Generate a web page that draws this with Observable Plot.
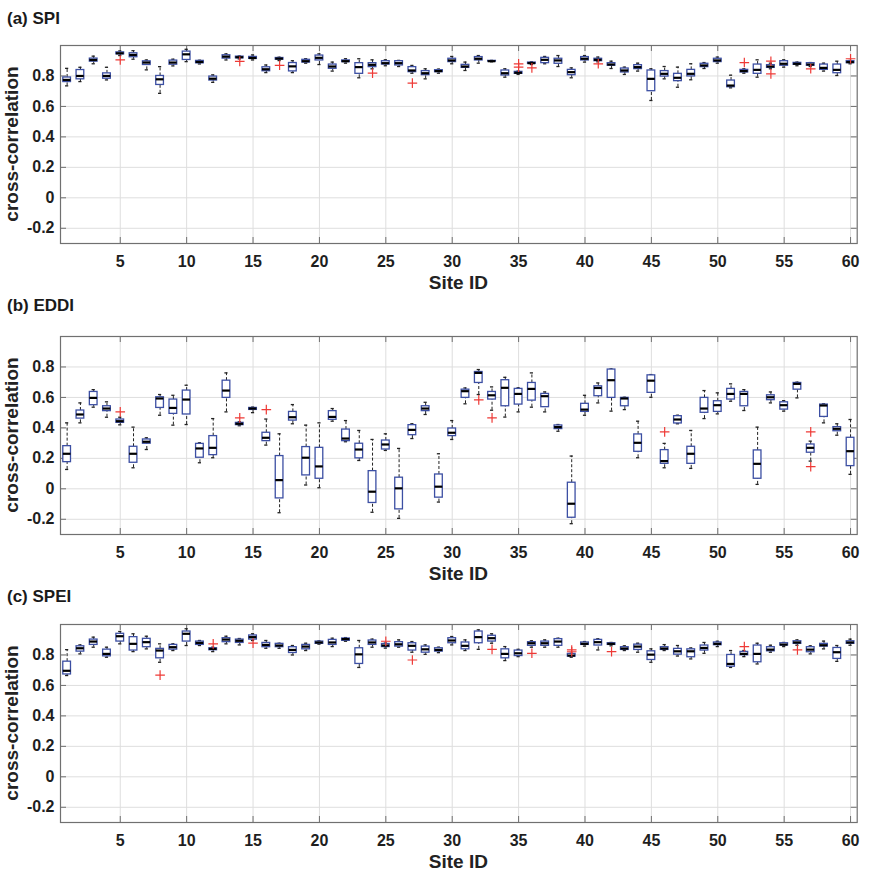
<!DOCTYPE html>
<html>
<head>
<meta charset="utf-8">
<script src="https://cdn.jsdelivr.net/npm/d3@7"></script>
<script src="https://cdn.jsdelivr.net/npm/@observablehq/plot@0.6"></script>
<style>
  body { margin: 0; background: #fff; }
  #wrap { position: relative; width: 879px; height: 874px; background: #fff;
          font-family: "Liberation Sans", Arial, Helvetica, sans-serif; color: #1a1a1a; }
  .title { position: absolute; left: 7px; font-weight: bold; font-size: 17px; line-height: 20px; white-space: nowrap; }
  .ylab { position: absolute; width: 220px; height: 20px; line-height: 20px; text-align: center;
          font-weight: bold; font-size: 19px; transform: rotate(-90deg); white-space: nowrap; color: #222; }
  .xlab { position: absolute; width: 200px; height: 20px; line-height: 20px; text-align: center;
          font-weight: bold; font-size: 19px; white-space: nowrap; color: #222; }
  .panel { position: absolute; left: 0; }
</style>
</head>
<body>
<div id="wrap"></div>
<script>
// ---------------- data ----------------
const sites = [1,2,3,4,5,6,7,8,9,10,11,12,13,14,15,16,17,18,19,20,21,22,23,24,25,26,27,28,29,30,
  31,32,33,34,35,36,37,38,39,40,41,42,43,44,45,46,47,48,49,50,51,52,53,54,55,56,57,58,59,60];
const xTicks = [5,10,15,20,25,30,35,40,45,50,55,60];
const yTicks = [-0.2,0,0.2,0.4,0.6,0.8];
const panelTitles = ["(a) SPI", "(b) EDDI", "(c) SPEI"];
const xLabel = "Site ID";
const yLabel = "cross-correlation";

// (a) SPI
const spiLo  = [0.735,0.763,0.880,0.774,0.934,0.910,0.840,0.686,0.866,0.894,0.879,0.758,0.905,0.912,0.905,0.822,0.901,0.822,0.884,0.875,
  0.832,0.884,0.788,0.847,0.867,0.862,0.818,0.781,0.818,0.880,0.836,0.884,0.893,0.792,0.810,0.875,0.880,0.862,0.788,0.891,
  0.893,0.849,0.810,0.832,0.639,0.781,0.726,0.775,0.849,0.884,0.722,0.818,0.792,0.847,0.858,0.867,0.862,0.832,0.803,0.880];
const spiQ1  = [0.760,0.778,0.894,0.782,0.942,0.923,0.872,0.741,0.874,0.905,0.883,0.770,0.914,0.916,0.912,0.831,0.907,0.830,0.888,0.902,
  0.847,0.891,0.814,0.858,0.875,0.869,0.825,0.805,0.825,0.891,0.853,0.902,0.895,0.803,0.814,0.880,0.884,0.880,0.805,0.902,
  0.897,0.867,0.823,0.845,0.700,0.796,0.766,0.797,0.858,0.891,0.726,0.823,0.814,0.853,0.867,0.873,0.867,0.840,0.818,0.884];
const spiMed = [0.774,0.800,0.905,0.800,0.949,0.938,0.888,0.778,0.888,0.942,0.892,0.782,0.927,0.923,0.918,0.844,0.914,0.863,0.897,0.919,
  0.862,0.897,0.858,0.873,0.884,0.884,0.836,0.818,0.832,0.902,0.862,0.913,0.897,0.818,0.821,0.884,0.906,0.902,0.825,0.913,
  0.906,0.875,0.836,0.858,0.781,0.814,0.788,0.814,0.869,0.902,0.737,0.832,0.840,0.862,0.880,0.880,0.875,0.853,0.840,0.891];
const spiQ3  = [0.790,0.839,0.914,0.817,0.955,0.949,0.896,0.800,0.901,0.960,0.899,0.796,0.936,0.927,0.925,0.857,0.918,0.885,0.906,0.934,
  0.875,0.902,0.884,0.884,0.897,0.897,0.858,0.832,0.838,0.913,0.873,0.924,0.899,0.836,0.827,0.888,0.919,0.913,0.840,0.924,
  0.913,0.884,0.849,0.871,0.836,0.832,0.814,0.840,0.880,0.913,0.770,0.840,0.875,0.871,0.897,0.886,0.884,0.875,0.875,0.897];
const spiHi  = [0.850,0.857,0.930,0.857,0.964,0.966,0.905,0.861,0.910,0.975,0.903,0.807,0.945,0.931,0.938,0.872,0.923,0.900,0.913,0.945,
  0.891,0.913,0.913,0.906,0.906,0.902,0.869,0.847,0.845,0.928,0.891,0.934,0.902,0.847,0.832,0.893,0.928,0.934,0.853,0.934,
  0.924,0.897,0.858,0.884,0.847,0.862,0.858,0.880,0.888,0.924,0.805,0.847,0.906,0.884,0.906,0.891,0.888,0.884,0.897,0.902];
const spiOut = [[5,0.905],[14,0.896],[17,0.870],[24,0.818],[27,0.753],[35,0.880],[35,0.858],[36,0.853],
  [41,0.880],[52,0.888],[54,0.897],[54,0.814],[57,0.847],[60,0.913]];

// (b) EDDI
const eddiLo  = [0.127,0.433,0.536,0.470,0.420,0.138,0.258,0.483,0.418,0.422,0.171,0.204,0.505,0.414,0.500,0.287,-0.157,0.427,0.025,0.007,
  0.444,0.309,0.186,-0.154,0.252,-0.194,0.330,0.488,-0.087,0.324,0.558,0.619,0.516,0.471,0.505,0.536,0.505,0.378,-0.229,0.483,
  0.564,0.510,0.520,0.204,0.601,0.138,0.427,0.134,0.461,0.492,0.575,0.514,0.029,0.564,0.510,0.597,0.182,0.433,0.352,0.095];
const eddiQ1  = [0.175,0.461,0.549,0.510,0.433,0.171,0.296,0.531,0.492,0.488,0.204,0.221,0.597,0.418,0.518,0.313,-0.063,0.448,0.088,0.066,
  0.453,0.313,0.200,-0.093,0.258,-0.135,0.352,0.510,-0.058,0.346,0.597,0.695,0.586,0.542,0.553,0.579,0.536,0.392,-0.190,0.505,
  0.608,0.597,0.542,0.243,0.630,0.164,0.429,0.164,0.499,0.505,0.586,0.542,0.066,0.582,0.520,0.651,0.237,0.472,0.378,0.149];
const eddiMed = [0.230,0.488,0.597,0.527,0.444,0.230,0.309,0.593,0.531,0.586,0.265,0.269,0.645,0.427,0.527,0.335,0.057,0.470,0.204,0.147,
  0.472,0.330,0.258,-0.019,0.291,0.003,0.387,0.527,0.014,0.368,0.641,0.761,0.614,0.663,0.623,0.656,0.608,0.405,-0.098,0.520,
  0.662,0.713,0.593,0.302,0.710,0.182,0.455,0.230,0.527,0.549,0.623,0.623,0.164,0.601,0.549,0.689,0.269,0.547,0.394,0.247];
const eddiQ3  = [0.280,0.514,0.636,0.542,0.455,0.276,0.324,0.601,0.586,0.645,0.295,0.346,0.710,0.433,0.531,0.368,0.215,0.505,0.274,0.269,
  0.510,0.389,0.296,0.116,0.317,0.073,0.418,0.542,0.094,0.396,0.651,0.767,0.636,0.713,0.656,0.695,0.623,0.416,0.040,0.558,
  0.673,0.783,0.597,0.357,0.745,0.254,0.477,0.276,0.597,0.575,0.656,0.636,0.252,0.614,0.568,0.695,0.291,0.553,0.405,0.335];
const eddiHi  = [0.433,0.564,0.651,0.571,0.470,0.405,0.335,0.619,0.614,0.680,0.302,0.461,0.761,0.440,0.536,0.458,0.361,0.553,0.418,0.433,
  0.527,0.448,0.383,0.324,0.361,0.265,0.427,0.568,0.230,0.448,0.662,0.783,0.669,0.732,0.663,0.761,0.636,0.422,0.215,0.614,
  0.695,0.787,0.601,0.444,0.750,0.298,0.483,0.383,0.645,0.630,0.689,0.651,0.405,0.636,0.579,0.700,0.313,0.558,0.427,0.455];
const eddiOut = [[5,0.505],[14,0.466],[16,0.520],[32,0.584],[33,0.466],[46,0.374],[57,0.374],[57,0.145]];

// (c) SPEI
const speiLo  = [0.665,0.807,0.851,0.785,0.873,0.822,0.840,0.752,0.829,0.862,0.862,0.822,0.873,0.866,0.895,0.844,0.844,0.800,0.829,0.871,
  0.855,0.890,0.718,0.851,0.845,0.851,0.818,0.804,0.815,0.866,0.829,0.837,0.877,0.763,0.789,0.851,0.851,0.851,0.785,0.858,
  0.833,0.860,0.829,0.818,0.752,0.829,0.793,0.774,0.811,0.855,0.718,0.789,0.741,0.818,0.855,0.864,0.807,0.840,0.758,0.864];
const speiQ1  = [0.672,0.822,0.866,0.791,0.888,0.829,0.851,0.778,0.835,0.888,0.866,0.831,0.884,0.879,0.901,0.851,0.851,0.813,0.837,0.873,
  0.866,0.893,0.741,0.866,0.852,0.855,0.829,0.815,0.822,0.877,0.837,0.877,0.888,0.778,0.793,0.860,0.860,0.860,0.789,0.866,
  0.862,0.866,0.833,0.833,0.767,0.833,0.802,0.785,0.829,0.864,0.723,0.798,0.752,0.824,0.862,0.873,0.818,0.855,0.774,0.873];
const speiMed = [0.696,0.844,0.888,0.807,0.923,0.873,0.884,0.829,0.851,0.939,0.879,0.840,0.901,0.893,0.917,0.866,0.862,0.833,0.855,0.882,
  0.882,0.904,0.804,0.882,0.862,0.870,0.860,0.837,0.833,0.895,0.860,0.917,0.910,0.807,0.811,0.877,0.877,0.888,0.796,0.873,
  0.884,0.873,0.842,0.855,0.802,0.842,0.824,0.824,0.846,0.873,0.741,0.807,0.807,0.835,0.868,0.882,0.835,0.864,0.818,0.882];
const speiQ3  = [0.756,0.857,0.901,0.835,0.939,0.917,0.906,0.840,0.866,0.954,0.888,0.844,0.910,0.901,0.928,0.879,0.873,0.851,0.866,0.888,
  0.899,0.908,0.844,0.895,0.872,0.884,0.877,0.855,0.844,0.910,0.882,0.954,0.926,0.837,0.829,0.884,0.888,0.904,0.807,0.882,
  0.899,0.877,0.851,0.868,0.824,0.851,0.840,0.837,0.862,0.882,0.800,0.820,0.862,0.851,0.877,0.890,0.851,0.873,0.846,0.890];
const speiHi  = [0.835,0.866,0.917,0.851,0.954,0.939,0.923,0.873,0.873,0.972,0.895,0.851,0.923,0.908,0.939,0.895,0.877,0.862,0.877,0.893,
  0.910,0.914,0.895,0.904,0.878,0.899,0.888,0.866,0.851,0.921,0.899,0.965,0.939,0.855,0.837,0.893,0.899,0.910,0.811,0.888,
  0.906,0.882,0.860,0.877,0.840,0.868,0.862,0.846,0.882,0.890,0.829,0.829,0.877,0.864,0.882,0.899,0.860,0.891,0.862,0.904];
const speiOut = [[8,0.668],[12,0.873],[15,0.878],[25,0.890],[27,0.767],[33,0.837],[36,0.811],[39,0.833],[39,0.821],
  [42,0.822],[52,0.855],[56,0.833]];

// ---------------- drawing ----------------
const W = 879, ML = 60, MR = 22.3, MT = 10, MB = 36, FH = 198;
const FW = W - ML - MR;
const boxHalf = 0.29, capHalf = 0.12;
const blue = "#3c4fa3", red = "#ee3a36", axisGray = "#707070", gridGray = "#dedede";
const fontFamily = '"Liberation Sans", Arial, Helvetica, sans-serif';

function makePanel(lo, q1, med, q3, hi, out) {
  const rows = sites.map((s, i) => ({site: s, lo: lo[i], q1: q1[i], med: med[i], q3: q3[i], hi: hi[i]}));
  const outs = out.map(([s, v]) => ({site: s, v}));
  return Plot.plot({
    width: W, height: MT + FH + MB,
    marginLeft: ML, marginRight: MR, marginTop: MT, marginBottom: MB,
    style: {fontFamily, fontSize: "16px", fontWeight: "bold", color: "#1e1e1e", background: "white", overflow: "visible"},
    x: {domain: [0.5, 60.5]},
    y: {domain: [-0.3, 1.0]},
    marks: [
      Plot.gridX(xTicks, {stroke: gridGray, strokeOpacity: 1}),
      Plot.gridY(yTicks, {stroke: gridGray, strokeOpacity: 1}),
      Plot.axisX(xTicks, {anchor: "bottom", tickSize: 0, tickPadding: 12, label: null}),
      Plot.axisY(yTicks, {anchor: "left", tickSize: 0, tickPadding: 6, label: null,
        tickFormat: d => d === 0 ? "0" : d.toFixed(1)}),
      // inward ticks on all four sides
      Plot.tickX(xTicks, {x: d => d, insetTop: FH - 6, stroke: axisGray}),
      Plot.tickX(xTicks, {x: d => d, insetBottom: FH - 6, stroke: axisGray}),
      Plot.tickY(yTicks, {y: d => d, insetRight: FW - 6, stroke: axisGray}),
      Plot.tickY(yTicks, {y: d => d, insetLeft: FW - 6, stroke: axisGray}),
      // whiskers
      Plot.ruleX(rows, {x: "site", y1: "lo", y2: "q1", stroke: "#222", strokeDasharray: "3,2"}),
      Plot.ruleX(rows, {x: "site", y1: "q3", y2: "hi", stroke: "#222", strokeDasharray: "3,2"}),
      Plot.ruleY(rows, {y: "lo", x1: d => d.site - capHalf, x2: d => d.site + capHalf, stroke: "#222", strokeWidth: 1.3}),
      Plot.ruleY(rows, {y: "hi", x1: d => d.site - capHalf, x2: d => d.site + capHalf, stroke: "#222", strokeWidth: 1.3}),
      // boxes
      Plot.rect(rows, {x1: d => d.site - boxHalf, x2: d => d.site + boxHalf, y1: "q1", y2: "q3",
        fill: "white", stroke: blue, strokeWidth: 1.3}),
      // medians
      Plot.ruleY(rows, {y: "med", x1: d => d.site - boxHalf, x2: d => d.site + boxHalf, stroke: "#000", strokeWidth: 2.2}),
      // outliers
      Plot.dot(outs, {x: "site", y: "v", symbol: "plus", r: 3.2, stroke: red, strokeWidth: 1.2}),
      Plot.frame({stroke: axisGray, strokeWidth: 1.2})
    ]
  });
}

const wrap = document.getElementById("wrap");
const panels = [
  {title: panelTitles[0], titleTop: 9,   svgTop: 35,  data: [spiLo, spiQ1, spiMed, spiQ3, spiHi, spiOut]},
  {title: panelTitles[1], titleTop: 296, svgTop: 326, data: [eddiLo, eddiQ1, eddiMed, eddiQ3, eddiHi, eddiOut]},
  {title: panelTitles[2], titleTop: 587, svgTop: 614, data: [speiLo, speiQ1, speiMed, speiQ3, speiHi, speiOut]}
];

for (const p of panels) {
  const t = document.createElement("div");
  t.className = "title";
  t.style.top = p.titleTop + "px";
  t.textContent = p.title;
  wrap.appendChild(t);

  const svg = makePanel(...p.data);
  svg.classList.add("panel");
  svg.style.position = "absolute";
  svg.style.top = p.svgTop + "px";
  svg.style.left = "0px";
  wrap.appendChild(svg);

  const frameTop = p.svgTop + MT;
  const yl = document.createElement("div");
  yl.className = "ylab";
  yl.textContent = yLabel;
  yl.style.left = (12 - 110) + "px";
  yl.style.top = (frameTop + FH / 2 - 10) + "px";
  wrap.appendChild(yl);

  const xl = document.createElement("div");
  xl.className = "xlab";
  xl.textContent = xLabel;
  xl.style.left = (ML + FW / 2 - 100) + "px";
  xl.style.top = (frameTop + FH + 47 - 16.6) + "px";
  wrap.appendChild(xl);
}
</script>
</body>
</html>
